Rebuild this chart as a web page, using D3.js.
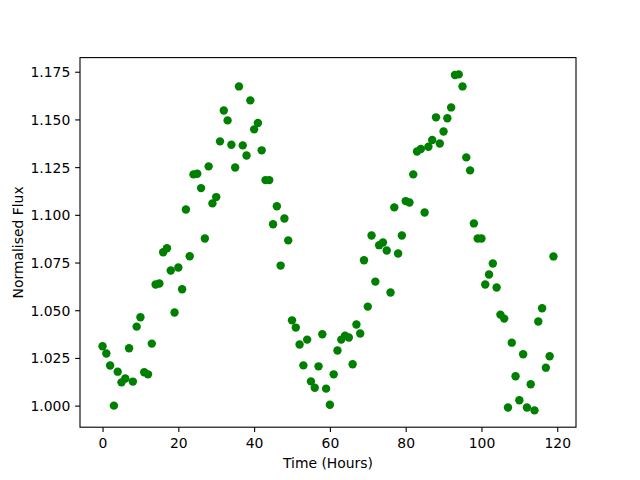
<!DOCTYPE html>
<html>
<head>
<meta charset="utf-8">
<script src="https://cdn.jsdelivr.net/npm/d3@7"></script>
<style>
body { margin: 0; background: #fff; }
svg { display: block; font-family: "DejaVu Sans", sans-serif; }
</style>
</head>
<body>
<svg id="chart" width="640" height="480"></svg>
<script>
const hours = d3.range(0, 120);
const flux = [
  1.0311, 1.0273, 1.0210, 1.0000, 1.0178, 1.0122, 1.0142, 1.0301, 1.0126, 1.0414,
  1.0463, 1.0175, 1.0164, 1.0325, 1.0635, 1.0640, 1.0804, 1.0825, 1.0708, 1.0488,
  1.0724, 1.0610, 1.1028, 1.0783, 1.1212, 1.1215, 1.1140, 1.0876, 1.1254, 1.1060,
  1.1093, 1.1385, 1.1547, 1.1495, 1.1367, 1.1248, 1.1673, 1.1364, 1.1311, 1.1600,
  1.1448, 1.1481, 1.1338, 1.1182, 1.1182, 1.0951, 1.1045, 1.0734, 1.0981, 1.0866,
  1.0447, 1.0409, 1.0320, 1.0211, 1.0346, 1.0127, 1.0094, 1.0206, 1.0374, 1.0089,
  1.0005, 1.0164, 1.0289, 1.0346, 1.0367, 1.0357, 1.0217, 1.0425, 1.0378, 1.0762,
  1.0519, 1.0892, 1.0650, 1.0841, 1.0855, 1.0813, 1.0593, 1.1039, 1.0797, 1.0892,
  1.1072, 1.1065, 1.1212, 1.1332, 1.1345, 1.1012, 1.1357, 1.1392, 1.1511, 1.1374,
  1.1437, 1.1506, 1.1563, 1.1733, 1.1736, 1.1673, 1.1301, 1.1233, 1.0955, 1.0876,
  1.0876, 1.0635, 1.0687, 1.0745, 1.0619, 1.0477, 1.0456, 0.9990, 1.0330, 1.0154,
  1.0028, 1.0269, 0.9990, 1.0112, 0.9975, 1.0441, 1.0510, 1.0199, 1.0259, 1.0782
];
const xTicks = [0, 20, 40, 60, 80, 100, 120];
const yTicks = [1.000, 1.025, 1.050, 1.075, 1.100, 1.125, 1.150, 1.175];
const xLabel = "Time (Hours)";
const yLabel = "Normalised Flux";

const data = hours.map((h, i) => ({ x: h, y: flux[i] }));

const L = 80, R = 576, T = 57.6, B = 427.2;
const svg = d3.select("#chart");

function padded(ext) {
  const m = (ext[1] - ext[0]) * 0.05;
  return [ext[0] - m, ext[1] + m];
}
const x = d3.scaleLinear().domain(padded(d3.extent(hours))).range([L, R]);
const y = d3.scaleLinear().domain(padded(d3.extent(flux))).range([B, T]);

const tickLen = 4.86, tickPad = 4.86;

// points
svg.append("g")
  .selectAll("circle")
  .data(data)
  .join("circle")
  .attr("cx", d => x(d.x))
  .attr("cy", d => y(d.y))
  .attr("r", 4.2)
  .attr("fill", "#008000");

// x axis
const gx = svg.append("g")
  .attr("transform", `translate(0,${B})`)
  .call(d3.axisBottom(x).tickValues(xTicks).tickFormat(d3.format("d"))
    .tickSizeInner(tickLen).tickSizeOuter(0).tickPadding(tickPad));
gx.select(".domain").remove();
gx.selectAll("line").attr("stroke", "#000").attr("stroke-width", 1.1);
gx.selectAll("text").attr("y", 21.3).attr("dy", null)
  .attr("font-size", "13.9px").attr("fill", "#000")
  .attr("font-family", "DejaVu Sans, sans-serif");

// y axis
const gy = svg.append("g")
  .attr("transform", `translate(${L},0)`)
  .call(d3.axisLeft(y).tickValues(yTicks).tickFormat(d3.format(".3f"))
    .tickSizeInner(tickLen).tickSizeOuter(0).tickPadding(tickPad));
gy.select(".domain").remove();
gy.selectAll("line").attr("stroke", "#000").attr("stroke-width", 1.1);
gy.selectAll("text").attr("dy", "0.36em")
  .attr("font-size", "13.9px").attr("fill", "#000")
  .attr("font-family", "DejaVu Sans, sans-serif");

// frame
svg.append("rect")
  .attr("x", L).attr("y", T)
  .attr("width", R - L).attr("height", B - T)
  .attr("fill", "none").attr("stroke", "#000").attr("stroke-width", 1.1);

// labels
svg.append("text")
  .attr("x", (L + R) / 2).attr("y", 468)
  .attr("text-anchor", "middle")
  .attr("font-size", "13.9px")
  .text(xLabel);

svg.append("text")
  .attr("transform", `translate(22.5,${(T + B) / 2}) rotate(-90)`)
  .attr("text-anchor", "middle")
  .attr("font-size", "13.9px")
  .text(yLabel);
</script>
</body>
</html>
